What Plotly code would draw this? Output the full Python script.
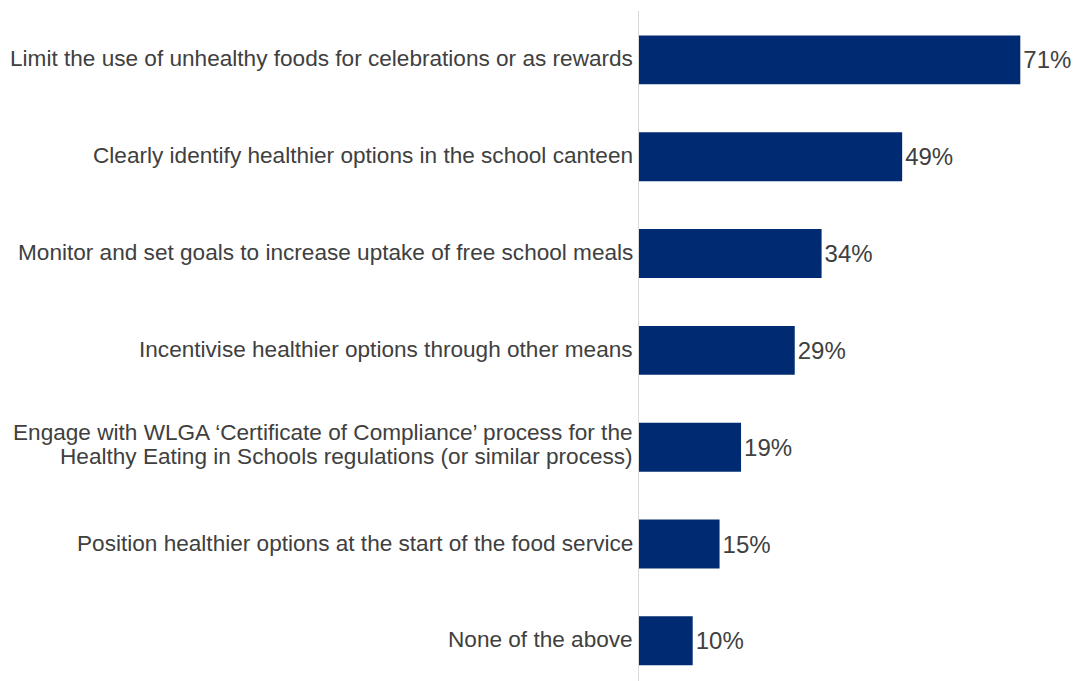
import plotly.graph_objects as go

# Survey actions and share of respondents (%)
actions = [
    "Limit the use of unhealthy foods for celebrations or as rewards",
    "Clearly identify healthier options in the school canteen",
    "Monitor and set goals to increase uptake of free school meals",
    "Incentivise healthier options through other means",
    "Engage with WLGA \u2018Certificate of Compliance\u2019 process for the<br>Healthy Eating in Schools regulations (or similar process)",
    "Position healthier options at the start of the food service",
    "None of the above",
]
shares = [71, 49, 34, 29, 19, 15, 10]
share_labels = [f"{v}%" for v in shares]

BAR_COLOR = "#002B73"
TEXT_COLOR = "#404040"
FONT = "Liberation Sans, Arial, sans-serif"
LABEL_SIZE = 22.6
LINE_GAP = 24  # px between lines of a wrapped category label

fig = go.Figure(
    go.Bar(
        x=shares,
        y=actions,
        orientation="h",
        width=0.505,
        marker=dict(color=BAR_COLOR, line=dict(width=0)),
        text=share_labels,
        textposition="outside",
        textfont=dict(size=24, color=TEXT_COLOR, family=FONT),
        cliponaxis=False,
        constraintext="none",
        hoverinfo="skip",
    )
)

# Category labels drawn as annotations so wrapped labels get tighter line spacing
for cat in actions:
    lines = cat.split("<br>")
    n = len(lines)
    lift = 1 if n == 1 else 3
    for i, line in enumerate(lines):
        offset = ((n - 1) / 2 - i) * LINE_GAP
        fig.add_annotation(
            x=0, xref="paper", xanchor="right", xshift=-4,
            y=cat, yref="y", yanchor="middle", yshift=offset + lift,
            text=line, showarrow=False,
            font=dict(size=LABEL_SIZE, color=TEXT_COLOR, family=FONT),
        )

fig.update_layout(
    width=1076,
    height=681,
    margin=dict(l=639, r=2, t=11, b=0),
    paper_bgcolor="white",
    plot_bgcolor="white",
    showlegend=False,
    font=dict(family=FONT, color=TEXT_COLOR, size=22),
    xaxis=dict(
        range=[0, 81],
        showgrid=False,
        zeroline=False,
        showticklabels=False,
        showline=False,
        fixedrange=True,
    ),
    yaxis=dict(
        type="category",
        categoryorder="array",
        categoryarray=actions,
        range=[6.415, -0.505],
        autorange=False,
        showgrid=False,
        zeroline=False,
        showline=True,
        linecolor="#D9D9D9",
        linewidth=1,
        ticks="",
        showticklabels=False,
        fixedrange=True,
    ),
)

fig.write_html("out.html")
